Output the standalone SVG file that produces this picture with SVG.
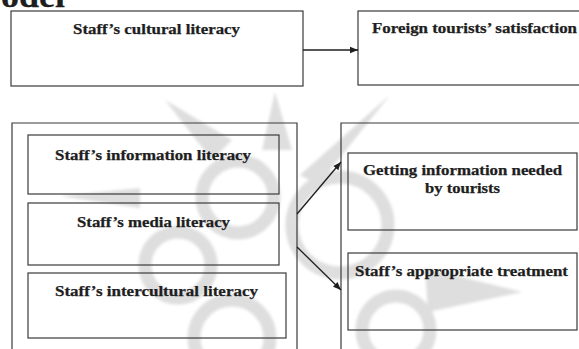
<svg xmlns="http://www.w3.org/2000/svg" width="579" height="349" viewBox="0 0 579 349">
<style>
.box{fill:none;stroke:#3a3a3a;stroke-width:1.2}
.t{font-family:"Liberation Serif","Times New Roman",serif;font-weight:bold;font-size:14px;fill:#1e1e1e;stroke:#1e1e1e;stroke-width:0.25}
.conn{stroke:#1e1e1e;stroke-width:1.3;fill:none;marker-end:url(#ah)}
.ring{fill:none;stroke:#dedede;stroke-width:13}
.spike{fill:#dedede}
</style>
<defs>
<marker id="ah" viewBox="0 0 10 10" refX="10" refY="5" markerWidth="9" markerHeight="8" markerUnits="userSpaceOnUse" orient="auto">
<path d="M0,1 L10,5 L0,9 z" fill="#1e1e1e"/>
</marker>
<filter id="soft" x="-10%" y="-10%" width="120%" height="120%"><feGaussianBlur stdDeviation="1.5"/></filter>
</defs>
<rect width="579" height="349" fill="#ffffff"/>
<g id="watermark" filter="url(#soft)">
<circle class="ring" cx="238" cy="197" r="36"/>
<circle class="ring" cx="178" cy="265" r="33"/>
<circle class="ring" cx="232" cy="338" r="38"/>
<circle class="ring" cx="340" cy="225" r="48"/>
<circle class="ring" cx="396" cy="330" r="34"/>
<path class="spike" d="M275,92 L262,150 L292,150 Z"/>
<path class="spike" d="M165,100 L212,160 L232,140 Z"/>
<path class="spike" d="M522,292 L425,268 L428,312 Z"/>
<path class="spike" d="M60,196 L140,188 L140,208 Z"/>
<path class="spike" d="M390,95 L300,175 L318,185 Z"/>
</g>
<text class="t" x="1" y="7" style="font-size:32px" textLength="64" lengthAdjust="spacingAndGlyphs">odel</text>
<g id="cultural">
<rect class="box" x="11" y="11" width="292" height="75"/>
<text class="t" x="73" y="34" textLength="167" lengthAdjust="spacingAndGlyphs">Staff’s cultural literacy</text>
</g>
<g id="satisfaction">
<rect class="box" x="358" y="11" width="240" height="74"/>
<text class="t" x="372" y="33" textLength="205" lengthAdjust="spacingAndGlyphs">Foreign tourists’ satisfaction</text>
</g>
<g id="literacies">
<path class="box" d="M12,349 V123 H297 V349"/>
</g>
<g id="information">
<rect class="box" x="28" y="135" width="251" height="59"/>
<text class="t" x="55" y="160" textLength="196" lengthAdjust="spacingAndGlyphs">Staff’s information literacy</text>
</g>
<g id="media">
<rect class="box" x="28" y="203" width="251" height="62"/>
<text class="t" x="77" y="227" textLength="153" lengthAdjust="spacingAndGlyphs">Staff’s media literacy</text>
</g>
<g id="intercultural">
<rect class="box" x="28" y="273" width="258" height="65"/>
<text class="t" x="55" y="296" textLength="203" lengthAdjust="spacingAndGlyphs">Staff’s intercultural literacy</text>
</g>
<g id="outcomes">
<path class="box" d="M341,349 V123 H590"/>
</g>
<g id="getting">
<rect class="box" x="348" y="153" width="229" height="77"/>
<text class="t" x="363" y="175" textLength="199" lengthAdjust="spacingAndGlyphs">Getting information needed</text>
<text class="t" x="425" y="193" textLength="75" lengthAdjust="spacingAndGlyphs">by tourists</text>
</g>
<g id="treatment">
<rect class="box" x="348" y="253" width="229" height="77"/>
<text class="t" x="355" y="276" textLength="213" lengthAdjust="spacingAndGlyphs">Staff’s appropriate treatment</text>
</g>
<g id="connectors">
<line class="conn" x1="303" y1="50" x2="358" y2="50"/>
<line class="conn" x1="297" y1="214" x2="341" y2="162"/>
<line class="conn" x1="297" y1="247" x2="341" y2="290"/>
</g>
</svg>
